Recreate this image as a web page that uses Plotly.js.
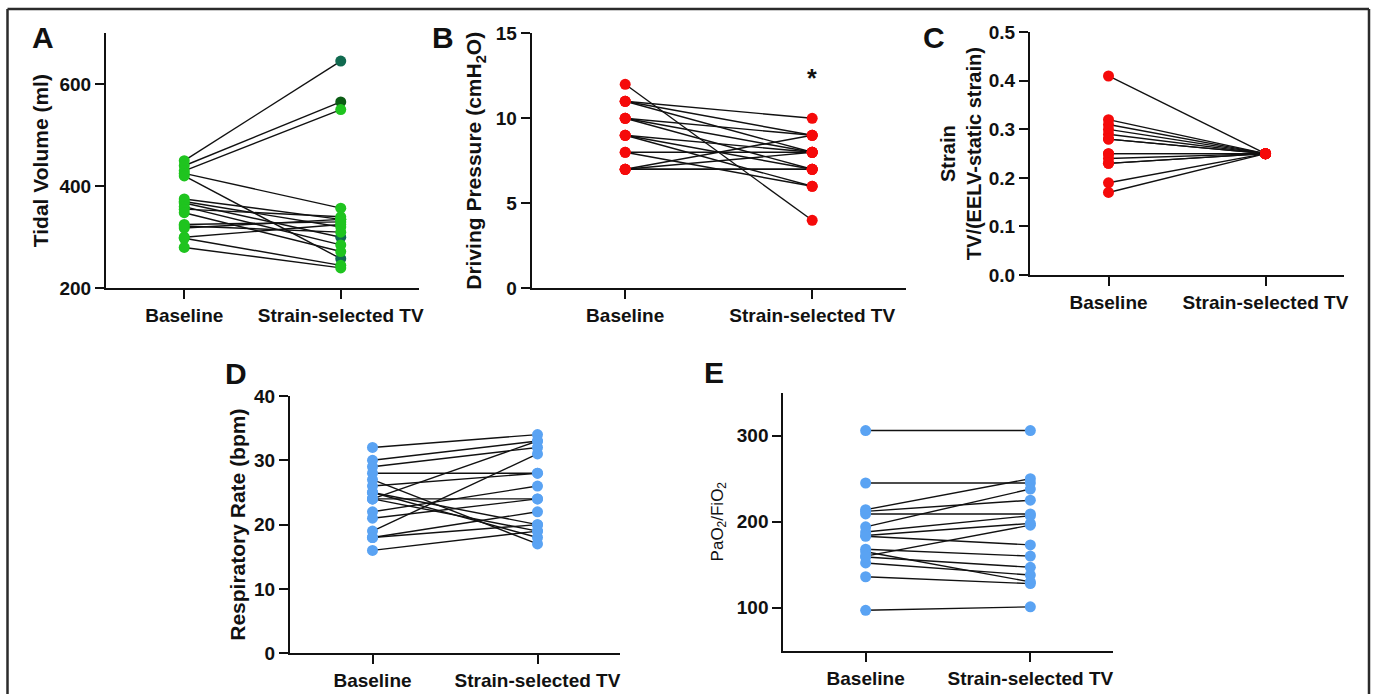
<!DOCTYPE html>
<html>
<head>
<meta charset="utf-8">
<script src="https://cdn.plot.ly/plotly-3.0.1.min.js"></script>
<style>html,body{margin:0;padding:0;background:#fff;}#chart{width:1374px;height:694px;}</style>
</head>
<body>
<div id="chart"></div>
<script>
// ---------- data ----------
var categories = ["Baseline", "Strain-selected TV"];

var tidalBaseline = [450, 440, 430, 425, 420, 375, 370, 367, 360, 355, 348, 325, 322, 318, 300, 298, 280];
var tidalStrain   = [645, 565, 550, 357, 258, 335, 320, 300, 285, 340, 272, 330, 310, 335, 325, 245, 240];

var dpBaseline = [12, 11, 11, 11, 10, 10, 10, 9, 9, 9, 8, 8, 7, 7, 7, 7];
var dpStrain   = [4, 10, 9, 8, 9, 8, 7, 8, 7, 6, 8, 6, 7, 9, 8, 7];

var strainBaseline = [0.41, 0.32, 0.31, 0.30, 0.29, 0.28, 0.28, 0.25, 0.25, 0.24, 0.23, 0.23, 0.19, 0.17];
var strainSelected = [0.25, 0.25, 0.25, 0.25, 0.25, 0.25, 0.25, 0.25, 0.25, 0.25, 0.25, 0.25, 0.25, 0.25];

var rrBaseline = [32, 30, 29, 28, 27, 26, 25, 25, 24, 24, 24, 22, 21, 19, 18, 18, 16];
var rrStrain   = [34, 33, 32, 28, 17, 28, 20, 18, 24, 33, 19, 26, 24, 31, 22, 20, 19];

var pfBaseline = [306, 245, 214, 212, 209, 194, 188, 184, 183, 168, 165, 160, 159, 152, 136, 97];
var pfStrain   = [306, 245, 250, 225, 209, 238, 207, 198, 173, 160, 130, 196, 147, 138, 128, 101];

// ---------- styling ----------
var W = 1374, H = 694;
var FONT = "Liberation Sans, Arial, Helvetica, sans-serif";
var GREEN = "#1fc41f", RED = "#f50a0a", BLUE = "#5aa3f3";
var TEAL = "#116a50", DKGREEN = "#0b5c14";

function dx(a, b) { return [a / W, b / W]; }
function dy(top, bottom) { return [1 - bottom / H, 1 - top / H]; }

function pairedTraces(base, after, xa, ya, baseColors, afterColors) {
  var lx = [], ly = [];
  for (var i = 0; i < base.length; i++) {
    lx.push(0, 1, null);
    ly.push(base[i], after[i], null);
  }
  var mx = [], my = [], mc = [];
  for (var j = 0; j < base.length; j++) { mx.push(0); my.push(base[j]); mc.push(Array.isArray(baseColors) ? baseColors[j] : baseColors); }
  for (var k = 0; k < after.length; k++) { mx.push(1); my.push(after[k]); mc.push(Array.isArray(afterColors) ? afterColors[k] : afterColors); }
  return [
    {x: lx, y: ly, xaxis: xa, yaxis: ya, mode: "lines", type: "scatter",
     line: {color: "#111", width: 1.4}, hoverinfo: "skip", showlegend: false},
    {x: mx, y: my, xaxis: xa, yaxis: ya, mode: "markers", type: "scatter",
     marker: {color: mc, size: 11, line: {width: 0}}, hoverinfo: "skip", showlegend: false}
  ];
}

var tidalStrainColors = tidalStrain.map(function (v) {
  if (v === 645) return TEAL;
  if (v === 565) return DKGREEN;
  if (v === 300 || v === 258) return TEAL;
  return GREEN;
});

var traces = []
  .concat(pairedTraces(tidalBaseline, tidalStrain, "x", "y", GREEN, tidalStrainColors))
  .concat(pairedTraces(dpBaseline, dpStrain, "x2", "y2", RED, RED))
  .concat(pairedTraces(strainBaseline, strainSelected, "x3", "y3", RED, RED))
  .concat(pairedTraces(rrBaseline, rrStrain, "x4", "y4", BLUE, BLUE))
  .concat(pairedTraces(pfBaseline, pfStrain, "x5", "y5", BLUE, BLUE));

var tickFont = {family: FONT, size: 19, color: "#111", weight: "bold"};
var titleFont = {family: FONT, size: 21, color: "#111", weight: "bold"};

function xAxis(domain, anchor) {
  return {
    domain: domain, anchor: anchor, range: [-0.5, 1.5],
    tickmode: "array", tickvals: [0, 1], ticktext: categories,
    showline: true, linecolor: "#111", linewidth: 2,
    ticks: "outside", ticklen: 9, tickwidth: 2, tickcolor: "#111",
    showgrid: false, zeroline: false, tickfont: tickFont, fixedrange: true
  };
}
function yAxis(domain, anchor, range, tickvals, title, standoff, tf, tformat) {
  var ax = {
    domain: domain, anchor: anchor, range: range,
    tickmode: "array", tickvals: tickvals,
    showline: true, linecolor: "#111", linewidth: 2,
    ticks: "outside", ticklen: 9, tickwidth: 2, tickcolor: "#111",
    showgrid: false, zeroline: false, tickfont: tickFont, fixedrange: true,
    title: {text: title, font: tf || titleFont, standoff: standoff}
  };
  if (tformat) ax.tickformat = tformat;
  return ax;
}

var layout = {
  width: W, height: H,
  margin: {l: 0, r: 0, t: 0, b: 0},
  paper_bgcolor: "#fff", plot_bgcolor: "rgba(0,0,0,0)",
  showlegend: false,
  xaxis:  xAxis(dx(106, 419), "y"),
  yaxis:  yAxis(dy(33, 288.3), "x", [200, 700], [200, 400, 600], "Tidal Volume (ml)", 5),
  xaxis2: xAxis(dx(531.7, 905.7), "y2"),
  yaxis2: yAxis(dy(33.3, 288.3), "x2", [0, 15], [0, 5, 10, 15], "Driving Pressure (cmH<sub>2</sub>O)", 8),
  xaxis3: xAxis(dx(1030, 1344), "y3"),
  yaxis3: yAxis(dy(32.3, 275), "x3", [0, 0.5], [0, 0.1, 0.2, 0.3, 0.4, 0.5], "Strain<br>TV/(EELV-static strain)", 2,
                {family: FONT, size: 20, color: "#111", weight: "bold"}, ".1f"),
  xaxis4: xAxis(dx(290, 620), "y4"),
  yaxis4: yAxis(dy(396, 653.3), "x4", [0, 40], [0, 10, 20, 30, 40], "Respiratory Rate (bpm)", 3),
  xaxis5: xAxis(dx(783.3, 1112.7), "y5"),
  yaxis5: yAxis(dy(392.7, 650.7), "x5", [50, 350], [100, 200, 300], "PaO<sub>2</sub>/FiO<sub>2</sub>", 9,
                {family: FONT, size: 17, color: "#111"}),
  annotations: [
    {text: "A", x: 43 / W, y: 1 - 38 / H},
    {text: "B", x: 443 / W, y: 1 - 38 / H},
    {text: "C", x: 934 / W, y: 1 - 38 / H},
    {text: "D", x: 236 / W, y: 1 - 373 / H},
    {text: "E", x: 714 / W, y: 1 - 372 / H}
  ].map(function (a) {
    return {text: a.text, x: a.x, y: a.y, xref: "paper", yref: "paper",
            xanchor: "center", yanchor: "middle", showarrow: false,
            font: {family: FONT, size: 30, color: "#111", weight: "bold"}};
  }).concat([
    {text: "*", x: 1, y: 12.4, xref: "x2", yref: "y2", showarrow: false,
     xanchor: "center", yanchor: "middle",
     font: {family: FONT, size: 25, color: "#111", weight: "bold"}}
  ]),
  shapes: [
    {type: "line", xref: "paper", yref: "paper", x0: 7.5 / W, x1: 1369 / W, y0: 1 - 9 / H, y1: 1 - 9 / H,
     line: {color: "#2b2b2b", width: 2.5}},
    {type: "line", xref: "paper", yref: "paper", x0: 7.5 / W, x1: 7.5 / W, y0: 1 - 9 / H, y1: -0.05,
     line: {color: "#2b2b2b", width: 2.5}},
    {type: "line", xref: "paper", yref: "paper", x0: 1369 / W, x1: 1369 / W, y0: 1 - 9 / H, y1: -0.05,
     line: {color: "#2b2b2b", width: 2.5}}
  ]
};

Plotly.newPlot("chart", traces, layout, {staticPlot: true, displayModeBar: false});
</script>
</body>
</html>
